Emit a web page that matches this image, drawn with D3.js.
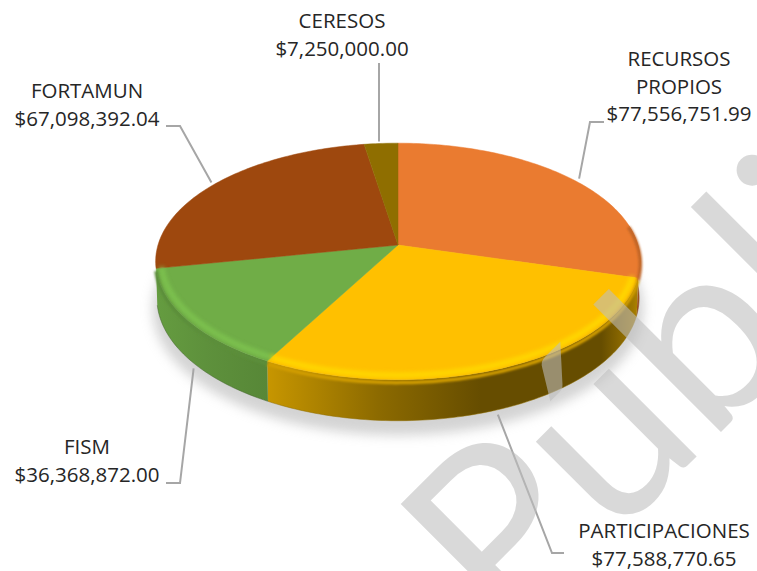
<!DOCTYPE html>
<html><head><meta charset="utf-8">
<script src="https://cdn.jsdelivr.net/npm/d3@7"></script>
<style>html,body{margin:0;padding:0;background:#fff}svg{display:block}</style></head>
<body><script>
const categories = ["RECURSOS PROPIOS","PARTICIPACIONES","FISM","FORTAMUN","CERESOS"];
const values = [77556751.99,77588770.65,36368872.00,67098392.04,7250000.00];
const colors = ["#ea7b30","#ffc000","#70ad47","#9e480e","#8f6e00"];
const labelLines = [["RECURSOS","PROPIOS","$77,556,751.99"],["PARTICIPACIONES","$77,588,770.65"],["FISM","$36,368,872.00"],["FORTAMUN","$67,098,392.04"],["CERESOS","$7,250,000.00"]];
const watermark = "Pública";

const W=757,H=571;
const labelLayout = [
 {x:679,y:66,elbow:[[604,122],[590,122]],wall:0,nudge:[10,1]},
 {x:664,y:538,elbow:[[564,553],[552,553]],wall:1,nudge:[0,4]},
 {x:87,y:454,elbow:[[166,483],[180,483]],wall:1,nudge:[5,8]},
 {x:87,y:98,elbow:[[166,126],[180,126]],wall:0,nudge:[-8,1]},
 {x:342,y:28,elbow:[[379,63]],wall:0,nudge:[-2,-2]}
];
const C={x:398,y:245,A:240,B:116,k:0.139,D:36,warp:-0.03};
const proj=(t0,r=1,drop=0)=>{
  const t=t0+C.warp*Math.sin(2*t0);
  const u=Math.sin(t)*r,v=-Math.cos(t)*r,q=1-C.k*v;
  return [C.x+C.A*u/q, C.y+C.B*v/q+drop/q];
};
const arcPts=(a,b,r=1,drop=0)=>{
  const n=Math.max(2,Math.ceil(Math.abs(b-a)/0.02));
  return d3.range(n+1).map(i=>proj(a+(b-a)*i/n,r,drop));
};
const line=d3.line();
const pieGen=d3.pie().sort(null).value(d=>d);
const arcs=pieGen(values);
const svg=d3.select("body").append("svg").attr("width",W).attr("height",H)
  .attr("viewBox",[0,0,W,H]);
const defs=svg.append("defs");
[["b1",1.3],["b2",2.2],["b8",6]].forEach(([id,s])=>{
  defs.append("filter").attr("id",id).attr("filterUnits","userSpaceOnUse").attr("x",0).attr("y",0).attr("width",W).attr("height",H)
    .append("feGaussianBlur").attr("stdDeviation",s);
});
defs.append("clipPath").attr("id","topClip").append("path").attr("d",line(arcPts(0,2*Math.PI))+"Z");

// wall shading across the width of the pie
const shadeStops=[[0,0.9],[0.1,0.84],[0.23,0.78],[0.46,0.55],[0.67,0.4],[0.92,0.4],[0.985,0.62],[1,0.7]];
const xL=C.x-242,xR=C.x+242;
arcs.forEach((a,i)=>{
  const g=defs.append("linearGradient").attr("id","wall"+i).attr("gradientUnits","userSpaceOnUse")
    .attr("x1",xL).attr("x2",xR).attr("y1",0).attr("y2",0);
  shadeStops.forEach(([o,s])=>{
    const c=d3.rgb(colors[i]);
    g.append("stop").attr("offset",o).attr("stop-color",d3.rgb(c.r*s,c.g*s,c.b*s).formatRgb());
  });
});
// shadow
svg.append("path").attr("d",line(arcPts(0,2*Math.PI,1.012,46))+"Z").attr("fill","#a8a8a8").attr("opacity",0.5).attr("filter","url(#b8)");

// walls (only the front half is visible)
const front=arcs.map((a,i)=>({i,a:Math.max(a.startAngle,Math.PI/2-0.17),b:Math.min(a.endAngle,3*Math.PI/2)})).filter(d=>d.b>d.a&&d.i!==3);
svg.append("g").selectAll("path").data(front).join("path")
  .attr("d",d=>line(arcPts(d.a,d.b).concat(arcPts(d.b,d.a,0.995,C.D)))+"Z")
  .attr("fill",d=>`url(#wall${d.i})`);
// wall bottom soft edge
svg.append("g").selectAll("path").data(front).join("path")
  .attr("d",d=>line(arcPts(d.a,d.b,0.995,C.D))).attr("fill","none")
  .attr("stroke",d=>d3.color(colors[d.i]).darker(1.6)).attr("stroke-width",1).attr("opacity",.5);

// top
const topG=svg.append("g");
topG.selectAll("path").data(arcs).join("path")
  .attr("d",a=>line([[C.x,C.y]].concat(arcPts(a.startAngle,a.endAngle)))+"Z")
  .attr("fill",(a,i)=>colors[i]).attr("stroke",(a,i)=>colors[i]).attr("stroke-width",.5);

// rounded rim
const rimFront=front.filter(d=>d.i!==0);
const rim=svg.append("g").attr("clip-path","url(#topClip)");
rim.selectAll(".hl").data(rimFront).join("path").attr("class","hl")
  .attr("d",d=>line(arcPts(d.a,d.b,0.978,-1))).attr("fill","none")
  .attr("stroke",d=>d3.color(colors[d.i]).brighter(.45)).attr("stroke-width",5).attr("opacity",.75).attr("filter","url(#b2)");
svg.append("g").selectAll(".ed").data(front).join("path").attr("class","ed")
  .attr("d",d=>line(arcPts(d.a,d.b,1,2.5))).attr("fill","none")
  .attr("stroke",d=>{const c=d3.rgb(colors[d.i]);return d3.rgb(c.r*.82,c.g*.82,c.b*.82).formatRgb();})
  .attr("stroke-width",3.5).attr("filter","url(#b1)");

// leader lines
const leaders=svg.append("g");
leaders.selectAll("path").data(arcs).join("path")
  .attr("d",(a,i)=>{
    const mid=(a.startAngle+a.endAngle)/2,L=labelLayout[i];
    const p=proj(mid,1,L.wall?C.D:0);
    return line(L.elbow.concat([[p[0]+L.nudge[0],p[1]+L.nudge[1]]]));
  }).attr("fill","none").attr("stroke","#a6a6a6").attr("stroke-width",2);

// labels
const lab=svg.append("g").attr("font-family","'Open Sans',sans-serif").attr("font-size",20.5).attr("fill","#262626").attr("text-anchor","middle");
lab.selectAll("text").data(labelLines).join("text")
  .attr("transform",(d,i)=>`translate(${labelLayout[i].x},${labelLayout[i].y})`)
  .selectAll("tspan").data(d=>d).join("tspan").attr("x",0).attr("y",(d,i)=>i*27.5).text(d=>d);

// watermark
svg.append("text").attr("transform","translate(509,644) rotate(-45)")
  .attr("font-family","Lato,sans-serif").attr("font-size",245)
  .attr("fill","rgb(190,190,190)").attr("fill-opacity",.58).text(watermark);
</script></body></html>
